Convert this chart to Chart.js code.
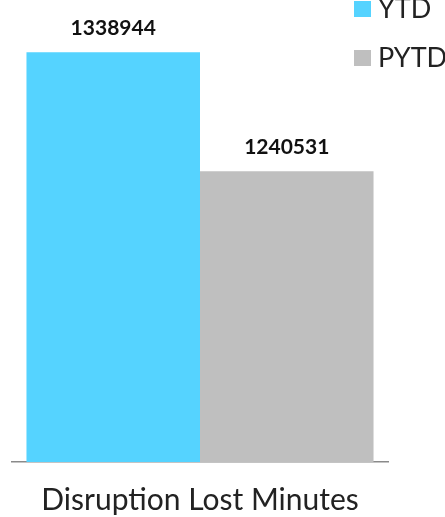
<!DOCTYPE html>
<html>
<head>
<meta charset="utf-8">
<script src="https://cdn.jsdelivr.net/npm/chart.js@4/dist/chart.umd.min.js"></script>
<style>
  html, body { margin: 0; padding: 0; background: #fff; overflow: hidden; }
  #wrap { position: relative; width: 445px; height: 517px; overflow: hidden; }
  #legend { position: absolute; left: 354px; top: 0; font-family: "Lato", sans-serif; font-size: 27px; color: #222; }
  .sw { position: absolute; left: 0; width: 17px; height: 16px; }
  .lt { position: absolute; left: 24px; line-height: 28px; white-space: nowrap; }
  canvas { position: absolute; left: 0; top: 0; }
</style>
</head>
<body>
<div id="wrap">
  <canvas id="c" width="445" height="538"></canvas>
  <div id="legend"></div>
</div>
<script>
const categories = ["Disruption Lost Minutes"];
const seriesNames = ["YTD", "PYTD"];
const ytdValues = [1338944];
const pytdValues = [1240531];
const seriesColors = ["#55D3FF", "#BFBFBF"];

// legend (HTML text)
const legend = document.getElementById('legend');
const legendTops = [1, 50];
const textTops = [-6, 43];
seriesNames.forEach((n, i) => {
  const sw = document.createElement('div');
  sw.className = 'sw';
  sw.style.top = legendTops[i] + 'px';
  sw.style.background = seriesColors[i];
  legend.appendChild(sw);
  const t = document.createElement('div');
  t.className = 'lt';
  t.style.top = textTops[i] + 'px';
  t.textContent = n;
  legend.appendChild(t);
});

const labelPlugin = {
  id: 'valueLabels',
  afterDatasetsDraw(chart) {
    const ctx = chart.ctx;
    ctx.save();
    ctx.font = 'bold 21px "Lato", sans-serif';
    ctx.fillStyle = '#111';
    ctx.textAlign = 'center';
    ctx.textBaseline = 'alphabetic';
    chart.data.datasets.forEach((ds, di) => {
      const meta = chart.getDatasetMeta(di);
      meta.data.forEach((bar, i) => {
        ctx.fillText(String(ds.data[i]), bar.x, bar.y - 17);
      });
    });
    ctx.restore();
  }
};

new Chart(document.getElementById('c'), {
  type: 'bar',
  data: {
    labels: categories,
    datasets: [
      { label: seriesNames[0], data: ytdValues, backgroundColor: seriesColors[0], borderWidth: 0 },
      { label: seriesNames[1], data: pytdValues, backgroundColor: seriesColors[1], borderWidth: 0 }
    ]
  },
  options: {
    responsive: false,
    animation: false,
    devicePixelRatio: 1,
    layout: { padding: { left: 12, right: 57, top: 39, bottom: 0 } },
    plugins: { legend: { display: false }, tooltip: { enabled: false } },
    datasets: { bar: { barPercentage: 1.0, categoryPercentage: 0.923 } },
    scales: {
      y: { display: false, min: 1000000, max: 1350000 },
      x: {
        grid: { display: false, drawTicks: false },
        border: { display: true, color: '#8a8a8a', width: 1.5 },
        ticks: { color: '#222', font: { family: 'Lato', size: 30 }, padding: 20 }
      }
    }
  },
  plugins: [labelPlugin]
});
</script>
</body>
</html>
